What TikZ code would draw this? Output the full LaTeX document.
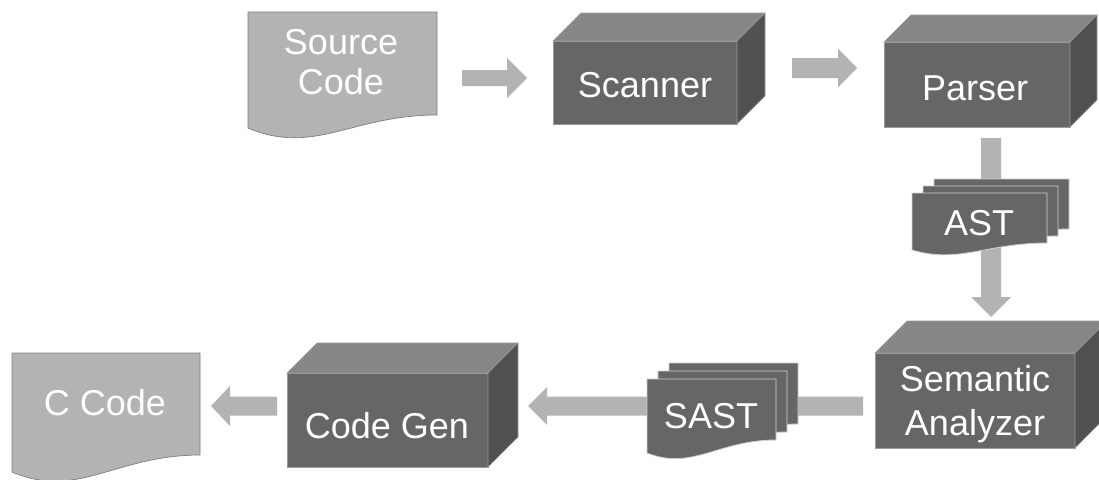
\documentclass[tikz,border=0pt]{standalone}
\usepackage{fontspec}
\setmainfont{Liberation Sans}
\usetikzlibrary{calc}
\definecolor{docfill}{HTML}{B3B3B3}
\definecolor{docedge}{HTML}{7F7F7F}
\definecolor{frontf}{HTML}{666666}
\definecolor{topf}{HTML}{878787}
\definecolor{sidef}{HTML}{515151}
\definecolor{cubeedge}{HTML}{9A9A9A}
\definecolor{arrowc}{HTML}{B3B3B3}
\definecolor{stackedge}{HTML}{CFCFCF}
% cube: x1 y1 x2 y2 depth
\newcommand\cubebox[5]{%
  \filldraw[fill=frontf, draw=cubeedge, line width=0.6pt] (#1,#2) rectangle (#3,#4);
  \filldraw[fill=topf, draw=cubeedge, line width=0.6pt] (#1,#2) -- ({#1+#5},{#2-#5}) -- ({#3+#5},{#2-#5}) -- (#3,#2) -- cycle;
  \filldraw[fill=sidef, draw=cubeedge, line width=0.6pt] (#3,#2) -- ({#3+#5},{#2-#5}) -- ({#3+#5},{#4-#5}) -- (#3,#4) -- cycle;}
% document: L T R Bl Br dip style
\newcommand\docshape[7]{%
  \filldraw[#7] (#1,#2) -- (#3,#2) -- (#3,#5)
    .. controls ({#3-0.45*(#3-#1)},#5) and ({#1+0.35*(#3-#1)},{#4+#6}) .. (#1,#4) -- cycle;}
% block arrows: start, end, shaft half, head half, head length
\newcommand\arrR[5]{\fill[arrowc] ($(#1)+(0,-#3)$) -- ($(#2)+(-#5,-#3)$) -- ($(#2)+(-#5,-#4)$) -- (#2) -- ($(#2)+(-#5,#4)$) -- ($(#2)+(-#5,#3)$) -- ($(#1)+(0,#3)$) -- cycle;}
\newcommand\arrL[5]{\fill[arrowc] ($(#1)+(0,-#3)$) -- ($(#2)+(#5,-#3)$) -- ($(#2)+(#5,-#4)$) -- (#2) -- ($(#2)+(#5,#4)$) -- ($(#2)+(#5,#3)$) -- ($(#1)+(0,#3)$) -- cycle;}
\newcommand\arrD[5]{\fill[arrowc] ($(#1)+(-#3,0)$) -- ($(#2)+(-#3,-#5)$) -- ($(#2)+(-#4,-#5)$) -- (#2) -- ($(#2)+(#4,-#5)$) -- ($(#2)+(#3,-#5)$) -- ($(#1)+(#3,0)$) -- cycle;}
\begin{document}
\begin{tikzpicture}[x=1pt,y=-1pt,
  lbl/.style={text=white, font=\fontsize{36}{43}\selectfont, inner sep=0pt, anchor=base},
  plaindoc/.style={fill=docfill, draw=docedge, line width=0.7pt},
  stackdoc/.style={fill=frontf, draw=stackedge, line width=0.8pt}]
\useasboundingbox (0,0) rectangle (1099,479);

% connector end points
\coordinate (a1s) at (462,78);   \coordinate (a1e) at (527,78);
\coordinate (a2s) at (792,68);   \coordinate (a2e) at (857,68);
\coordinate (a3s) at (991,138);  \coordinate (a3e) at (991,317);
\coordinate (a4s) at (863,406);  \coordinate (a4e) at (528,406);
\coordinate (a5s) at (277,406);  \coordinate (a5e) at (211,406);

% connectors (drawn first, stacks cover them)
\arrR{a1s}{a1e}{8}{20}{20}
\arrR{a2s}{a2e}{10}{19.5}{19}
\arrD{a3s}{a3e}{10}{20}{20}
\arrL{a4s}{a4e}{9.5}{19}{19}
\arrL{a5s}{a5e}{9.5}{20}{19}

% Source Code document
\docshape{248}{12}{437}{128}{115}{28}{plaindoc}
\node[lbl] (src1) at (341,54) {Source};
\node[lbl] (src2) at (341,94) {Code};

% Scanner
\cubebox{553}{41}{737}{124}{28}
\node[lbl] (scan) at (645,97) {Scanner};

% Parser
\cubebox{884}{42}{1070}{127}{27}
\node[lbl] (pars) at (975,100) {Parser};

% AST stack
\docshape{934}{179}{1069}{236}{229}{14}{stackdoc}
\docshape{923}{186}{1058}{243}{236}{14}{stackdoc}
\docshape{912}{193}{1047}{250}{243}{14}{stackdoc}
\node[lbl] (ast) at (979,235) {AST};

% Semantic Analyzer
\cubebox{875}{353}{1075}{448}{32}
\node[lbl] (sem1) at (975,391) {Semantic};
\node[lbl] (sem2) at (975,435) {Analyzer};

% SAST stack
\docshape{669}{363}{798}{437}{424}{18}{stackdoc}
\docshape{658}{371}{787}{445}{432}{18}{stackdoc}
\docshape{647}{379}{776}{453}{440}{18}{stackdoc}
\node[lbl] (sast) at (711,428) {SAST};

% Code Gen
\cubebox{287}{373}{488}{467}{30}
\node[lbl] (cgen) at (387,438) {Code Gen};

% C Code document
\docshape{12}{353}{200}{472}{455}{28}{plaindoc}
\node[lbl] (ccode) at (105,415) {C Code};
\end{tikzpicture}
\end{document}
